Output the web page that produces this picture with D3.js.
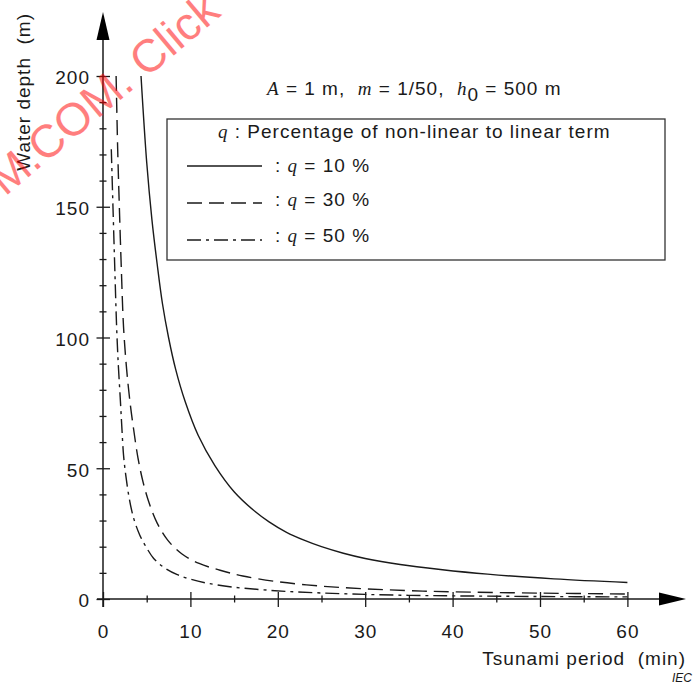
<!DOCTYPE html>
<html>
<head>
<meta charset="utf-8">
<script src="https://cdn.jsdelivr.net/npm/d3@7"></script>
<style>
  body { margin: 0; background: #fff; }
  text { font-family: "Liberation Sans", Arial, sans-serif; fill: #1a1a1a; }
  .v { font-family: "Liberation Serif", "Times New Roman", serif; font-style: italic; }
</style>
</head>
<body>
<div id="chart"></div>
<script>

// values (period in min, depth in m)

var periodQ10 = [4.35, 5.0, 5.6, 6.2, 6.8, 7.5, 8.3, 9.4, 10.9, 12.8, 15, 17.2, 19, 21, 23, 25, 27.5, 30, 34, 38.6, 44, 51.6, 60];
var depthQ10  = [200, 167, 145, 128, 113, 100, 88, 75.5, 62.5, 51, 41, 34, 29.5, 25.5, 22.5, 20, 17.5, 15.5, 13.2, 11.3, 9.5, 7.7, 6.3];

var periodQ30 = [1.5, 1.68, 1.87, 2.1, 2.35, 2.7, 3.1, 3.5, 4.0, 4.6, 5.3, 6.2, 7.4, 9.0, 11, 13.4, 16, 20, 25, 30, 35, 40, 50, 60];
var depthQ30  = [200, 172, 150, 126, 104, 88, 75, 65, 54, 44.5, 36.5, 29, 22.5, 17.3, 13.6, 11, 8.8, 6.6, 4.9, 3.9, 3.2, 2.75, 2.25, 1.9];

var periodQ50 = [0.95, 1.14, 1.38, 1.57, 1.76, 1.97, 2.15, 2.35, 2.6, 3.0, 3.5, 4.2, 5.0, 5.8, 7.0, 8.5, 10, 12, 15, 18, 21, 25, 30, 35, 40, 50, 60];
var depthQ50  = [172, 150, 123, 103, 89, 77, 66, 55, 47.5, 38.5, 31, 24.5, 19.5, 15.5, 12, 9.3, 7.6, 6.0, 4.5, 3.6, 2.9, 2.3, 1.75, 1.4, 1.2, 0.95, 0.8];

var xMajor = [0, 10, 20, 30, 40, 50, 60];
var xMinor = [5, 15, 25, 35, 45, 55];
var yMajor = [0, 50, 100, 150, 200];
var yMinor = [10, 20, 30, 40, 60, 70, 80, 90, 110, 120, 130, 140, 160, 170, 180, 190];

var legendLabels = ["10", "30", "50"];

var svgWidth = 694;
var svgHeight = 684;
var ink = "#1a1a1a";

var svg = d3.select("#chart")
  .append("svg")
  .attr("width", svgWidth)
  .attr("height", svgHeight);

var x = d3.scaleLinear().domain([0, 60]).range([103, 627.4]);
var y = d3.scaleLinear().domain([0, 200]).range([599, 76]);

// ticks: majors cross the axis, minors are short crosses

function styleTicks(g, a, b, horizontal) {
  g.select(".domain").remove();
  g.selectAll(".tick line")
    .attr("stroke", ink)
    .attr("stroke-width", 1.3)
    .attr(horizontal ? "x1" : "y1", a)
    .attr(horizontal ? "x2" : "y2", b);
}

var gx = svg.append("g")
  .attr("transform", "translate(0,599)")
  .call(d3.axisBottom(x).tickValues(xMajor).tickFormat(d3.format("d")))
  .attr("font-size", 19)
  .attr("font-family", null);
styleTicks(gx, -7, 8, false);
gx.selectAll(".tick text").attr("y", 39).attr("dy", "0").attr("fill", ink)
  .style("letter-spacing", "1px");

var gxMinor = svg.append("g")
  .attr("transform", "translate(0,599)")
  .call(d3.axisBottom(x).tickValues(xMinor).tickFormat(""));
styleTicks(gxMinor, -3.5, 3.5, false);

var gy = svg.append("g")
  .attr("transform", "translate(103,0)")
  .call(d3.axisLeft(y).tickValues(yMajor).tickFormat(d3.format("d")))
  .attr("font-size", 19)
  .attr("font-family", null);
styleTicks(gy, -6.5, 7, true);
gy.selectAll(".tick text").attr("x", -13).attr("dy", "0.42em").attr("fill", ink)
  .style("letter-spacing", "1px");

var gyMinor = svg.append("g")
  .attr("transform", "translate(103,0)")
  .call(d3.axisLeft(y).tickValues(yMinor).tickFormat(""));
styleTicks(gyMinor, -3.5, 3.5, true);

// axis lines with arrow heads

svg.append("line")
  .attr("x1", 97).attr("x2", 662).attr("y1", 599).attr("y2", 599)
  .attr("stroke", ink).attr("stroke-width", 1.5);
svg.append("path")
  .attr("d", "M686,599 L659,592.5 L659,605.5 Z")
  .attr("fill", "#000");

svg.append("line")
  .attr("x1", 103).attr("x2", 103).attr("y1", 607).attr("y2", 36)
  .attr("stroke", ink).attr("stroke-width", 1.5);
svg.append("path")
  .attr("d", "M103,12 L96.5,40 L109.5,40 Z")
  .attr("fill", "#000");

// curves

var series = [
  { t: periodQ10, h: depthQ10, dash: null },
  { t: periodQ30, h: depthQ30, dash: "15,7" },
  { t: periodQ50, h: depthQ50, dash: "14,5,3,5" }
];

var line = d3.line()
  .x(d => x(d[0]))
  .y(d => y(d[1]))
  .curve(d3.curveCatmullRom.alpha(0.5));

svg.selectAll(".curve")
  .data(series)
  .enter()
  .append("path")
  .attr("class", "curve")
  .attr("d", s => line(d3.zip(s.t, s.h)))
  .attr("fill", "none")
  .attr("stroke", ink)
  .attr("stroke-width", 1.4)
  .attr("stroke-dasharray", s => s.dash);

// parameters line

var note = svg.append("text")
  .attr("x", 267).attr("y", 95)
  .attr("font-size", 19)
  .style("letter-spacing", "1px")
  .style("white-space", "pre");
note.append("tspan").attr("class", "v").text("A");
note.append("tspan").text(" = 1 m,  ");
note.append("tspan").attr("class", "v").text("m");
note.append("tspan").text(" = 1/50,  ");
note.append("tspan").attr("class", "v").text("h");
note.append("tspan").attr("dy", 6).text("0");
note.append("tspan").attr("dy", -6).text(" = 500 m");

// legend

svg.append("rect")
  .attr("x", 167).attr("y", 119)
  .attr("width", 498).attr("height", 141)
  .attr("fill", "#fff")
  .attr("stroke", "#333")
  .attr("stroke-width", 1.3);

var title = svg.append("text")
  .attr("x", 218).attr("y", 138)
  .attr("font-size", 19)
  .style("letter-spacing", "1px")
  .style("white-space", "pre");
title.append("tspan").attr("class", "v").text("q");
title.append("tspan").text(" : Percentage of non-linear to linear term");

var rowLineY = [166, 203, 240];
var rowTextY = [172, 206, 242];

series.forEach(function(s, i) {
  svg.append("line")
    .attr("x1", 187).attr("x2", 262)
    .attr("y1", rowLineY[i]).attr("y2", rowLineY[i])
    .attr("stroke", ink)
    .attr("stroke-width", 1.3)
    .attr("stroke-dasharray", s.dash);

  var t = svg.append("text")
    .attr("x", 275).attr("y", rowTextY[i])
    .attr("font-size", 19)
    .style("letter-spacing", "1px")
    .style("white-space", "pre");
  t.append("tspan").text(": ");
  t.append("tspan").attr("class", "v").text("q");
  t.append("tspan").text(" = " + legendLabels[i] + " %");
});

// axis titles

svg.append("text")
  .attr("transform", "translate(30,13) rotate(-90)")
  .attr("text-anchor", "end")
  .attr("font-size", 19)
  .style("letter-spacing", "1px")
  .style("white-space", "pre")
  .text("Water depth  (m)");

svg.append("text")
  .attr("x", 686).attr("y", 665)
  .attr("text-anchor", "end")
  .attr("font-size", 19)
  .style("letter-spacing", "1px")
  .style("white-space", "pre")
  .text("Tsunami period  (min)");

svg.append("text")
  .attr("x", 692).attr("y", 682)
  .attr("text-anchor", "end")
  .attr("font-size", 12)
  .attr("font-style", "italic")
  .text("IEC");

// watermark across the top left corner

svg.append("text")
  .attr("transform", "translate(5,197) rotate(-40)")
  .attr("font-size", 46)
  .style("fill", "#ff0000")
  .attr("opacity", 0.5)
  .text("M.COM. Click");

</script>
</body>
</html>
